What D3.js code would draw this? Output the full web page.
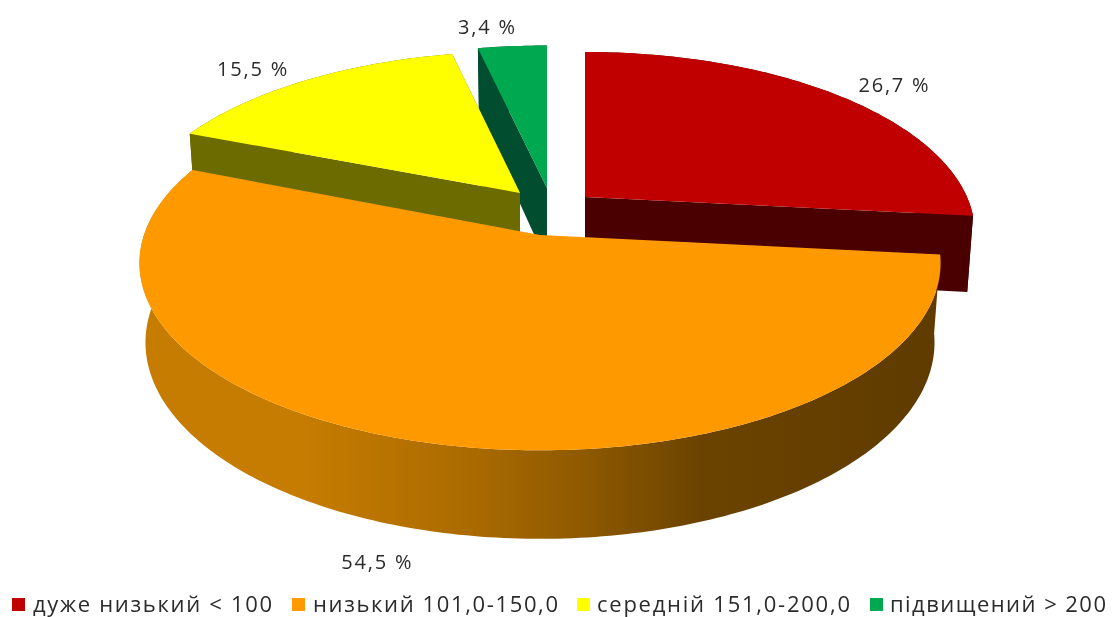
<!DOCTYPE html>
<html><head><meta charset="utf-8">
<script src="https://cdn.jsdelivr.net/npm/d3@7/dist/d3.min.js"></script>
<style>html,body{margin:0;background:#fff}svg{display:block;filter:blur(0.6px)}text{font-family:"Open Sans","Noto Sans",sans-serif;fill:#2b2b2b}</style>
</head><body><svg id="c" width="1112" height="617"></svg>
<script>
const categories = ["дуже низький < 100","низький 101,0-150,0","середній 151,0-200,0","підвищений > 200"];
const values = [26.7,54.5,15.5,3.4];
const labels = ["26,7 %","54,5 %","15,5 %","3,4 %"];
const faceColors = ["#c00000","#ff9900","#ffff00","#00a84f"];
const wallColors = ["#4a0000","#6b4200","#6b6b00","#004d30"];
// layout of each exploded slice: apex on screen, radii, perspective, depth, label offset from rim midpoint
const layout = [
 {ax:585,ay:197,R:382,Ry:174,P:0.2,H:75,lx:59,ly:-10,lz:0},
 {ax:540,ay:235,R:396,Ry:183,P:0.15,H:78,lx:-52,ly:31,lz:1},
 {ax:520,ay:193,R:383,Ry:170,P:0.2,H:75,lx:-53,ly:-12,lz:0},
 {ax:547,ay:188,R:390,Ry:171,P:0.2,H:75,lx:-25,ly:-20,lz:0}
];
const legendX = [[12,33,272],[292,313,558],[577,597,850],[870,890,1106]];
const SHRINK = 0.015;
const svg = d3.select("#c");
const pie = d3.pie().sort(null).value(d=>d).startAngle(0).endAngle(2*Math.PI);
const arcs = pie(values);

function project(l,t,r,z){
  const u=r*Math.sin(t), v=-r*Math.cos(t), s=1/(1-l.P*v), k=1-SHRINK*z;
  return [l.ax+l.R*u*s*k, l.ay+l.Ry*v*s*k+l.H*z*s];
}
const line=d3.line();
function rim(l,a,b,z){ const n=Math.max(4,Math.ceil((b-a)*60)); return d3.range(n+1).map(i=>project(l,a+(b-a)*i/n,1,z)); }

const defs=svg.append("defs");
const grad=defs.append("linearGradient").attr("id","wall").attr("gradientUnits","userSpaceOnUse")
  .attr("x1",140).attr("x2",940).attr("y1",0).attr("y2",0);
[[0,"#c67c00"],[0.2,"#c67c00"],[0.4,"#ad6c00"],[0.55,"#8f5a00"],[0.7,"#6b4300"],[1,"#5f3b00"]]
 .forEach(s=>grad.append("stop").attr("offset",s[0]).attr("stop-color",s[1]));

// back to front
[3,0,2,1].forEach(i=>{
  const d=arcs[i], l=layout[i], g=svg.append("g");
  const a=d.startAngle,b=d.endAngle;
  const top=rim(l,a,b,0), bot=rim(l,a,b,1).reverse();
  g.append("path").attr("d",line(top.concat(bot))+"Z").attr("fill",i===1?"url(#wall)":wallColors[i]);
  [a,b].forEach(t=>{
    const q=[project(l,t,0,0),project(l,t,1,0),project(l,t,1,1),project(l,t,0,1)];
    if(i!==1) g.append("path").attr("d",line(q)+"Z").attr("fill",wallColors[i]);
  });
  g.append("path").attr("d",line([project(l,a,0,0)].concat(top))+"Z").attr("fill",faceColors[i]);
});

// data labels
arcs.forEach((d,i)=>{
  const l=layout[i], p=project(l,(d.startAngle+d.endAngle)/2,1,l.lz);
  svg.append("text").attr("x",p[0]+l.lx).attr("y",p[1]+l.ly).attr("text-anchor","middle").attr("dominant-baseline","central")
    .attr("font-size",20).attr("letter-spacing",1.8).text(labels[i]);
});

// legend
categories.forEach((c,i)=>{
  const [sx,tx,te]=legendX[i];
  svg.append("rect").attr("x",sx).attr("y",598).attr("width",13).attr("height",13).attr("fill",faceColors[i]);
  svg.append("text").attr("x",tx).attr("y",612).attr("font-size",22).attr("textLength",te-tx).attr("lengthAdjust","spacing").text(c);
});
</script></body></html>
